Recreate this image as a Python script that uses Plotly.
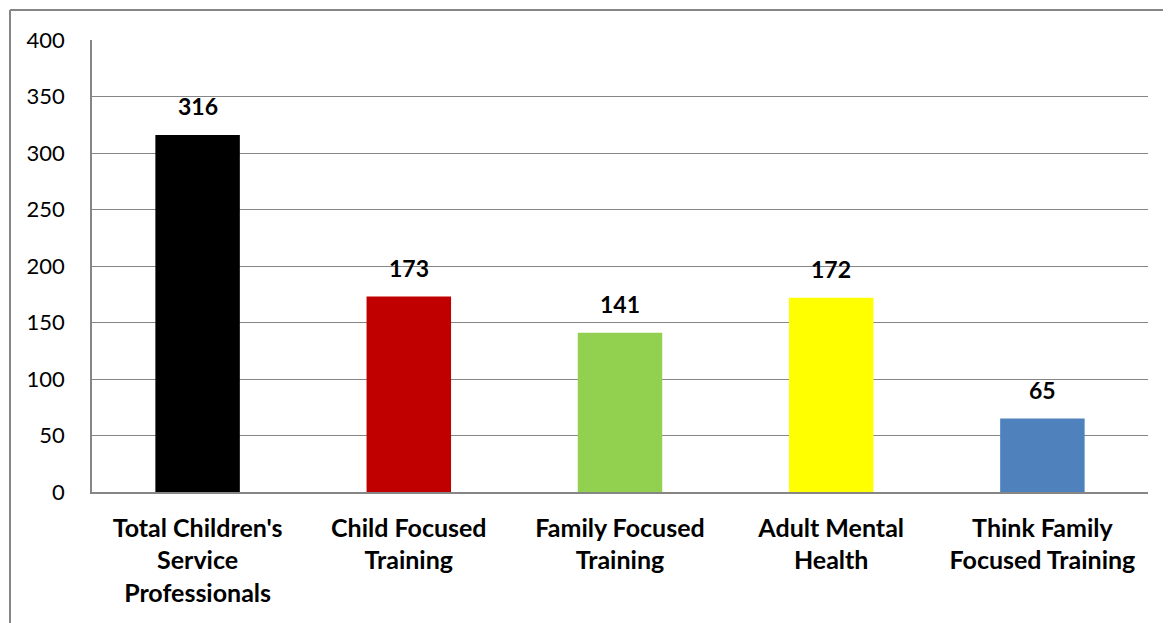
import plotly.graph_objects as go

categories = ["Total Children's<br>Service<br>Professionals", "Child Focused<br>Training",
              "Family Focused<br>Training", "Adult Mental<br>Health", "Think Family<br>Focused Training"]
values = [316, 173, 141, 172, 65]
colors = ["#000000", "#C00000", "#92D050", "#FFFF00", "#4F81BD"]
y_ticks = [0, 50, 100, 150, 200, 250, 300, 350, 400]

FONT = "Lato, Open Sans, sans-serif"

fig = go.Figure()
fig.add_trace(go.Bar(x=categories, y=values, marker=dict(color=colors, line=dict(width=0)),
                     width=0.4, hoverinfo="skip"))

for c, v in zip(categories, values):
    fig.add_annotation(x=c, y=v, text=f"<b>{v}</b>", showarrow=False, yshift=29,
                       font=dict(family=FONT, size=23, color="#000000"))

OFF = 8  # page body offset
W, H = 1171 - OFF, 623 - OFF
ml, mt, mr, mb = 92 - OFF, 40 - OFF, 23, 131
pw, ph = W - ml - mr, H - mt - mb
bx = (10 - OFF - ml) / pw
by = 1 + (mt - (10 - OFF)) / ph
fig.add_shape(type="line", xref="paper", yref="paper", x0=bx, x1=bx, y0=by, y1=-0.5,
              line=dict(color="#868686", width=2))
fig.add_shape(type="line", xref="paper", yref="paper", x0=bx, x1=1.1, y0=by, y1=by,
              line=dict(color="#868686", width=2))

fig.update_layout(
    width=W, height=H,
    margin=dict(l=ml, r=mr, t=mt, b=mb),
    paper_bgcolor="white", plot_bgcolor="white",
    showlegend=False,
    font=dict(family=FONT, color="#000000"),
    xaxis=dict(showline=True, linecolor="#868686", linewidth=1.5, ticks="",
               tickfont=dict(family=FONT, size=25, color="#000000", weight="bold",
                             lineposition="none"),
               ticklabelstandoff=13, showgrid=False),
    yaxis=dict(range=[0, 400], tickvals=y_ticks, showline=True, linecolor="#868686", linewidth=1.5,
               gridcolor="#868686", gridwidth=1, zeroline=False, ticks="",
               tickfont=dict(family=FONT, size=22, color="#000000"), ticklabelstandoff=21),
)

fig.write_html("out.html")
